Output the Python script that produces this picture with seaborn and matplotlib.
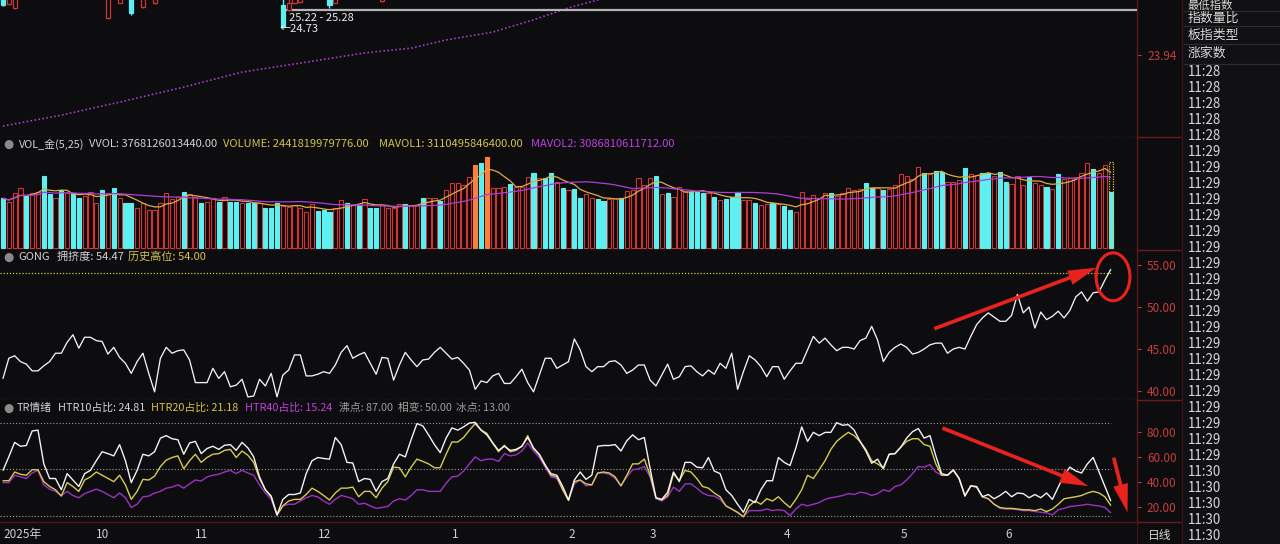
import numpy as np
import pandas as pd
import matplotlib
matplotlib.use("Agg")
import matplotlib.pyplot as plt
import seaborn as sns
from matplotlib.patches import Ellipse, FancyArrowPatch
from matplotlib.lines import Line2D

# ---------------------------------------------------------------- data
# GONG 拥挤度 (one value per trading day)
gong = [
    41.5, 43.9, 44.2, 43.5, 43.2, 42.4, 42.4, 43.0, 43.5, 44.5,
    44.5, 45.8, 46.7, 45.1, 46.4, 46.4, 46.0, 45.9, 44.4, 45.2,
    44.0, 43.3, 42.1, 43.5, 44.5, 42.1, 39.9, 43.9, 45.2, 44.5,
    44.8, 44.9, 43.7, 41.0, 41.0, 41.0, 42.7, 41.5, 42.3, 40.5,
    40.7, 41.4, 39.3, 39.4, 41.4, 40.6, 42.1, 39.3, 41.9, 42.5,
    44.3, 44.3, 41.8, 41.8, 42.0, 42.3, 42.1, 43.1, 44.6, 45.4,
    43.9, 44.3, 44.6, 43.3, 42.0, 44.0, 43.9, 41.3, 43.1, 44.6,
    43.7, 42.9, 43.7, 43.8, 44.6, 45.2, 44.5, 43.8, 44.0, 43.3,
    42.5, 40.2, 41.2, 41.0, 41.8, 42.1, 40.9, 40.9, 41.7, 42.6,
    41.0, 39.9, 41.9, 43.9, 43.9,
    42.7, 43.1, 43.5, 46.2, 44.9, 42.9, 42.3, 42.9, 42.9, 43.5,
    43.6, 43.1, 42.1, 42.5, 43.1, 43.1, 41.3, 40.6, 41.9, 43.2,
    41.4, 41.7, 42.9, 43.0, 42.3, 41.8, 42.5, 42.0, 43.3, 42.7,
    44.5, 40.2, 42.3, 44.2, 43.7, 42.9, 41.7, 42.9, 42.9, 41.4,
    42.4, 43.3, 43.3, 44.9, 46.5, 45.7, 46.3, 45.5, 44.8, 45.2,
    45.2, 45.0, 46.0, 46.3, 47.7, 46.1, 43.5, 44.6, 45.2, 45.6,
    45.2, 44.4, 44.6, 45.0, 45.5, 45.7, 45.7, 44.5, 45.0, 45.2,
    45.0, 46.5, 47.9, 48.7, 49.3, 48.8, 48.3, 48.3, 49.0, 51.5,
    49.3, 50.0, 47.5, 49.4, 48.5, 48.9, 49.5, 48.7, 49.6, 51.2,
    51.8, 50.7, 51.7, 51.8, 53.2, 54.47,
]
gong_high = 54.00

# TR情绪
htr10 = [
    49.1, 60.0, 71.5, 68.4, 69.0, 80.6, 81.3, 54.3, 42.6, 42.6,
    33.6, 46.5, 41.4, 36.2, 46.5, 49.1, 56.8, 64.0, 62.5, 60.7,
    69.7, 56.8, 39.3, 49.1, 62.0, 60.7, 64.0, 74.9, 76.9, 74.4,
    73.6, 62.0, 71.0, 72.3, 62.5, 66.6, 68.4, 65.9, 69.2, 69.7,
    65.1, 71.5, 67.1, 59.9, 43.9, 33.6, 28.5, 13.5, 25.9, 29.8,
    29.8, 31.0, 46.5, 56.8, 59.4, 58.6, 58.1, 75.4, 69.7, 55.5,
    55.0, 40.1, 42.6, 41.9,
    32.3, 40.1, 42.6, 54.3, 62.0, 59.9, 73.6, 86.5, 84.7, 77.5,
    69.7, 63.3, 74.9, 83.1, 81.3, 83.9, 87.0, 87.5, 81.3, 77.5,
    71.0, 65.1, 68.4, 65.1, 65.9, 68.4, 75.4, 67.1, 61.5, 53.0,
    46.5, 45.2, 36.2, 25.4, 41.4, 47.8, 41.9, 45.2, 68.4, 69.0,
    69.0, 69.7, 64.6, 72.8, 77.5, 73.6, 75.4, 50.4, 27.2, 25.9,
    31.6, 47.8, 40.1, 55.5, 55.5, 51.7, 51.2, 59.4, 48.6, 46.5,
    33.6, 29.0, 22.0, 15.6,
    25.9, 23.3, 33.6, 40.8, 40.8, 59.4, 55.5, 53.0, 67.1, 83.9,
    72.3, 79.5, 76.9, 79.5, 79.5, 87.3, 85.2, 85.7, 81.3, 72.3,
    64.6, 54.8, 58.1, 50.4, 62.0, 62.5, 67.7, 74.9, 80.0, 82.6,
    74.9, 76.9, 60.7, 46.5, 45.2, 49.6, 42.6, 28.5, 36.7, 36.2,
    28.0, 29.8, 26.4, 29.0, 32.3, 28.0, 31.0, 30.5, 27.2, 29.8,
    27.2, 31.0, 25.9, 35.7, 45.2, 51.7, 48.6, 47.0, 54.3, 59.4,
    47.8, 36.2, 24.81,
]
htr20 = [
    40.8, 40.8, 47.8, 46.0, 45.2, 49.6, 49.6, 40.1, 36.2, 33.6,
    28.5, 39.3, 36.2, 32.3, 41.4, 43.9, 47.8, 45.2, 42.6, 40.1,
    45.2, 37.5, 25.9, 32.3, 41.9, 41.4, 44.5, 52.2, 57.3, 59.4,
    60.7, 50.4, 56.8, 62.0, 55.5, 59.4, 62.0, 62.5, 65.1, 65.9,
    59.4, 64.6, 61.2, 55.5, 42.6, 33.6, 28.0, 13.5, 20.7, 24.6,
    25.9, 25.9, 29.8, 34.9, 32.3, 29.0, 25.4, 31.0, 34.9, 34.9,
    35.7, 28.0, 32.3, 32.3,
    27.2, 34.9, 40.1, 51.7, 51.2, 43.9, 51.7, 58.1, 56.3, 54.3,
    51.2, 51.2, 62.0, 71.8, 71.8, 75.4, 81.3, 86.5, 81.3, 78.7,
    71.0, 64.0, 69.2, 64.0, 65.1, 68.4, 76.9, 66.6, 62.0, 53.7,
    45.2, 43.9, 33.6, 25.0, 40.1, 41.4, 38.3, 37.5, 47.0, 47.8,
    47.0, 43.9, 36.7, 45.2, 54.3, 54.3, 58.1, 45.2, 27.2, 25.4,
    29.0, 46.5, 40.8, 49.1, 47.8, 42.6, 36.2, 34.9, 31.0, 28.0,
    20.7, 18.2, 15.6, 12.0,
    20.7, 24.6, 22.0, 26.4, 24.6, 28.0, 23.3, 19.4, 25.9, 33.6,
    45.2, 42.6, 49.6, 56.8, 65.9, 72.3, 76.2, 79.5, 76.9, 72.3,
    65.9, 56.8, 54.3, 51.2, 62.0, 62.5, 67.7, 72.3, 74.4, 74.4,
    69.7, 68.4, 54.3, 45.2, 45.2, 49.1, 42.6, 29.0, 36.7, 35.7,
    28.0, 26.4, 22.0, 19.4, 18.7, 18.7, 18.2, 17.6, 17.6, 16.9,
    18.2, 16.1, 18.2, 22.0, 26.4, 27.2, 28.0, 29.0, 31.0, 32.3,
    31.0, 28.0, 21.18,
]
htr40 = [
    39.3, 39.3, 45.2, 43.9, 42.6, 47.0, 49.1, 37.5, 34.1, 32.3,
    29.0, 32.3, 29.0, 27.2, 30.5, 32.3, 34.1, 32.3, 29.8, 27.2,
    31.0, 27.2, 19.4, 22.0, 27.9, 28.5, 31.0, 32.3, 34.9, 35.7,
    37.5, 34.9, 38.3, 41.4, 40.6, 43.9, 45.2, 46.0, 47.8, 49.1,
    46.5, 49.1, 47.0, 45.2, 37.5, 31.0, 25.9, 13.0, 20.7, 22.0,
    22.0, 24.6, 27.2, 29.0, 27.9, 24.6, 22.0, 25.9, 29.0, 27.9,
    26.4, 22.0, 22.8, 20.7,
    18.7, 19.4, 20.2, 24.6, 26.4, 25.4, 29.0, 33.6, 33.6, 32.3,
    32.3, 32.3, 38.8, 43.9, 44.5, 48.6, 54.3, 59.9, 56.8, 58.1,
    58.1, 56.3, 62.5, 60.7, 61.5, 64.6, 71.0, 64.6, 59.4, 51.7,
    43.9, 42.6, 33.6, 25.4, 38.3, 41.4, 36.7, 37.5, 47.0, 47.0,
    46.0, 42.6, 36.7, 43.9, 49.6, 50.4, 52.2, 43.9, 26.4, 24.6,
    27.9, 35.7, 32.3, 38.3, 38.3, 34.9, 31.0, 29.0, 28.5, 25.9,
    20.7, 18.2, 15.1, 12.0,
    16.9, 16.9, 16.9, 18.2, 16.9, 17.6, 16.9, 13.0, 18.2, 22.0,
    20.7, 22.0, 23.3, 25.9, 27.2, 27.9, 29.0, 30.5, 29.8, 31.6,
    31.0, 29.0, 30.5, 33.6, 32.3, 36.2, 37.5, 41.4, 46.5, 52.2,
    51.7, 53.7, 47.8, 45.2, 45.2, 49.1, 42.6, 29.0, 36.7, 35.7,
    28.0, 26.4, 22.0, 18.7, 18.2, 18.2, 17.6, 16.9, 16.9, 16.1,
    15.6, 15.1, 13.5, 17.6, 18.7, 20.2, 20.7, 21.2, 22.0, 21.2,
    20.7, 19.4, 15.24,
]
tr_levels = [87.0, 50.0, 13.0]   # 沸点 / 相变 / 冰点

# Volume, in units of VOL_UNIT
VOL_UNIT = 4.36e10
volume = [
    49.7, 46.3, 54.7, 59.7, 52.3, 54.7, 55.7, 72.3, 53.7, 49.7,
    58.0, 54.7, 54.7, 49.7, 52.3, 55.7, 44.7, 58.0, 53.7, 59.7,
    49.7, 44.7, 44.7, 40.3, 44.7, 38.0, 38.0, 44.7, 54.7, 49.0,
    51.3, 55.7, 53.7, 51.3, 44.7, 46.3, 49.7, 46.3, 51.3, 46.3,
    45.7, 44.7, 44.7, 44.7, 44.7, 40.3, 40.3, 44.7, 42.3, 41.3,
    43.0, 40.3, 36.3, 43.7, 37.0, 38.0, 36.3, 40.3, 48.0, 44.7,
    43.0, 43.0, 49.0, 40.3, 40.3, 43.0, 39.7, 40.3, 43.7, 43.7,
    43.0, 43.0, 49.7, 49.7, 49.7, 47.0, 58.0, 64.7, 64.7, 63.0,
    71.3, 83.0, 84.7, 91.3, 59.7, 59.7, 61.3, 63.7, 61.3, 61.3,
    71.3, 74.7, 69.7, 69.7, 74.7, 66.3, 59.7, 58.0, 59.0, 50.3,
    53.7, 50.3, 49.0, 47.0, 49.0, 49.7, 50.3, 57.0, 58.0, 69.7,
    63.0,
    69.7, 72.0, 54.0, 55.3, 50.7, 61.3, 57.3, 56.3, 56.3, 55.3,
    55.3, 50.7, 48.0, 48.7, 51.3, 55.3, 48.0, 48.0, 45.3, 43.0,
    44.0, 45.3, 44.0, 42.0, 38.0, 36.3, 56.3, 48.7, 53.0, 49.7,
    55.3, 55.3, 52.0, 54.7, 59.7, 58.0, 58.7, 64.7, 59.7, 59.7,
    58.0, 58.7, 63.0, 74.0, 72.0, 68.7, 81.3, 74.7, 74.0, 77.3,
    76.3, 66.3, 66.3, 68.0, 79.7, 74.0, 73.0, 74.7, 74.7, 72.0,
    76.3, 65.7, 64.0, 72.0, 63.0, 71.3, 64.7, 63.0, 60.7, 58.7,
    74.0, 68.7, 69.7, 70.7, 75.3, 85.3, 78.7, 75.3, 83.0, 56.3,
]
# bar kind: R = up (hollow red), C = down (cyan), O = highlighted (orange)
bar_kind = list(
    "CRRRCRRCCR" "CRCCRRRCRC" "RCCRRRRRRR" "RCRRCRRCRC" "CRCCRCCCRR"
    "RRRRCCCRRC" "RCRCCRRRRC" "RRCRRCRRRR" "ROCORRRCRR" "RCRCCRCRCC"
    "RRCCRRCRRR" "R"
    "RCRCRRRCCC" "RCRCCCRRCR" "RCRCCRRRRR" "RCRRRRRCCR" "CRRRRRRCRC"
    "CRRRCRRCCR" "CCRRRCRRCR" "CRRRRRCRRC"
)
vvol_last = 3768126013440.0 / VOL_UNIT

# Price panel (only the bottoms of a few candles are visible)
candle_idx = [0, 1, 2, 18, 20, 22, 24, 26, 48, 49, 50, 51, 56, 57, 65]
candle_open = [25.80, 25.44, 25.33, 25.02, 25.47, 25.90, 25.35, 25.46, 25.40, 25.26, 25.45, 25.50, 25.80, 25.47, 25.52]
candle_high = [25.90, 25.80, 25.80, 25.90, 25.90, 26.00, 25.90, 25.90, 25.70, 25.70, 25.80, 25.80, 25.90, 25.80, 25.80]
candle_low = [25.36, 25.40, 25.30, 25.00, 25.46, 25.10, 25.31, 25.42, 24.73, 25.24, 25.43, 25.47, 25.33, 25.45, 25.49]
candle_close = [25.40, 25.70, 25.70, 25.70, 25.70, 25.17, 25.80, 25.80, 24.76, 25.46, 25.70, 25.70, 25.40, 25.70, 25.70]
price_ma_idx = [0, 10, 20, 31, 41, 52, 62, 70, 76, 84, 91, 97, 102, 110]
price_ma_val = [21.86, 22.18, 22.56, 23.00, 23.44, 23.73, 24.00, 24.14, 24.38, 24.61, 24.97, 25.32, 25.55, 25.90]
price_line_level = 25.26
price_tick = [23.94]

month_pos = [0, 16, 33, 54, 77, 97, 111, 134, 154, 172]
month_labels = ["2025年", "10", "11", "12", "1", "2", "3", "4", "5", "6"]

gong_ticks = [40, 45, 50, 55]
tr_ticks = [20, 40, 60, 80]

side_items = ["最低指数", "指数量比", "板指类型", "涨家数"]
side_times = ["11:28"] * 5 + ["11:29"] * 20 + ["11:30"] * 5

N = len(gong)
assert len(htr10) == N and len(htr20) == N and len(htr40) == N
assert len(volume) == N and len(bar_kind) == N
idx = np.arange(N)

# ---------------------------------------------------------------- style
BG = "#0d0d10"
SIDE_BG = "#111114"
SEP = "#4e1616"
AXRED = "#c83c3c"
GRAY_TXT = "#d2d2d2"
YEL = "#d4c24c"
MAG = "#c040e0"
CYAN = "#5ef0f0"
RED = "#cc3636"
ORANGE = "#ff7f3a"
ARROW = "#e8231e"

sns.set_theme(style="dark")
plt.rcParams["font.family"] = ["Noto Sans CJK SC", "DejaVu Sans"]
plt.rcParams["axes.unicode_minus"] = False

W, H = 1280, 544
fig = plt.figure(figsize=(W / 100, H / 100), dpi=100, facecolor=BG)


def rect(x0, y0, x1, y1):
    return [x0 / W, 1 - y1 / H, (x1 - x0) / W, (y1 - y0) / H]


CH_R = 1137
XL = ((0 - 3) / 5.83, (CH_R - 3) / 5.83)

ax_p = fig.add_axes(rect(0, 0, CH_R, 137))
ax_v = fig.add_axes(rect(0, 137, CH_R, 250))
ax_g = fig.add_axes(rect(0, 250, CH_R, 400))
ax_t = fig.add_axes(rect(0, 400, CH_R, 522))
panels = [ax_p, ax_v, ax_g, ax_t]

for ax in panels:
    ax.set_facecolor(BG)
    ax.grid(False)
    ax.set_xlim(*XL)
    for s in ["left", "top"]:
        ax.spines[s].set_visible(False)
    ax.spines["right"].set_visible(True)
    ax.spines["right"].set_color("#5a1a1a")
    ax.spines["right"].set_linewidth(1.0)
    ax.spines["bottom"].set_visible(True)
    ax.spines["bottom"].set_color(SEP)
    ax.spines["bottom"].set_linewidth(1.0)
    ax.spines["bottom"].set_linestyle((0, (2, 2)))
    ax.set_xlabel("")
    ax.set_ylabel("")
    ax.tick_params(axis="x", bottom=False, labelbottom=False)
ax_t.spines["bottom"].set_linestyle("-")


def right_ticks(ax, ticks, fmt="{:.2f}"):
    ax.yaxis.tick_right()
    ax.set_yticks(ticks, [fmt.format(t) for t in ticks])
    ax.tick_params(axis="y", right=True, left=False, labelright=True, labelleft=False,
                   colors=AXRED, labelcolor=AXRED, labelsize=8.5, length=3, width=0.8,
                   pad=25.5)
    for lab in ax.get_yticklabels():
        lab.set_horizontalalignment("right")


# ---------------------------------------------------------------- price panel
ax_p.set_ylim(21.54, 25.55)
for i, o, h, l, c in zip(candle_idx, candle_open, candle_high, candle_low, candle_close):
    up = c >= o
    col = RED if up else CYAN
    ax_p.vlines(i, l, h, color=col, lw=1.0, zorder=3)
    ax_p.bar(i, abs(c - o), bottom=min(o, c), width=0.7,
             facecolor=BG if up else CYAN, edgecolor=col, lw=0.9, zorder=4)
sns.lineplot(x=price_ma_idx, y=price_ma_val, ax=ax_p, color="#a83cc4", lw=1.2,
             linestyle=(0, (1, 1.4)), zorder=2)
ax_p.hlines(price_line_level, 48.4, XL[1], color="#b4b4b4", lw=1.6, zorder=3)
ax_p.text(49.0, 25.03, "25.22 - 25.28", color="#ececec", fontsize=8.0, va="center", zorder=5)
ax_p.text(47.5, 24.70, "←24.73", color="#ececec", fontsize=8.0, va="center", zorder=5)
right_ticks(ax_p, price_tick)
ax_p.set_xlim(*XL)

# ---------------------------------------------------------------- volume panel
ax_v.set_ylim(-2, 111)
kind_arr = np.array(bar_kind)
vol_arr = np.array(volume)
for k, fc, ec in [("R", "#120a0a", RED), ("C", CYAN, CYAN), ("O", ORANGE, ORANGE)]:
    m = kind_arr == k
    ax_v.bar(idx[m], vol_arr[m], width=0.72, facecolor=fc, edgecolor=ec, lw=0.8, zorder=3)
ax_v.bar(idx[-1], vvol_last, width=0.72, facecolor="none", edgecolor="#d8c040",
         lw=0.9, linestyle=(0, (1, 1)), zorder=4)
vs = pd.Series(vol_arr)
sns.lineplot(x=idx, y=vs.rolling(5, min_periods=1).mean().values, ax=ax_v,
             color="#e0ac40", lw=0.9, zorder=5)
sns.lineplot(x=idx, y=vs.rolling(25, min_periods=1).mean().values, ax=ax_v,
             color="#b03cd8", lw=0.9, zorder=5)
ax_v.set_yticks([])
ax_v.set_xlim(*XL)

# ---------------------------------------------------------------- GONG panel
ax_g.set_ylim(38.93, 56.79)
ax_g.hlines(gong_high, -0.5, N - 1, color="#d8c848", lw=0.9, linestyle=(0, (1, 1.5)), zorder=2)
sns.lineplot(x=idx, y=gong, ax=ax_g, color="#f2f2f2", lw=0.95, zorder=3)
right_ticks(ax_g, gong_ticks)
ax_g.set_xlim(*XL)
ax_g.add_patch(Ellipse((190.4, 53.6), 5.8, 5.7, fill=False, edgecolor=ARROW, lw=2.2, zorder=6))
ax_g.add_patch(FancyArrowPatch((159.3, 47.3), (188.0, 54.8),
                               arrowstyle="simple,head_length=1.7,head_width=0.9,tail_width=0.22",
                               mutation_scale=12, color=ARROW, lw=0, zorder=6))

# ---------------------------------------------------------------- TR panel
ax_t.set_ylim(7.8, 105.4)
ax_t.hlines(tr_levels, -0.5, N - 1, color="#a0a0a0", lw=0.8, linestyle=(0, (1, 1.8)), zorder=2)
sns.lineplot(x=idx, y=htr40, ax=ax_t, color="#9c32c2", lw=1.0, zorder=3)
sns.lineplot(x=idx, y=htr20, ax=ax_t, color="#d6ca52", lw=1.0, zorder=4)
sns.lineplot(x=idx, y=htr10, ax=ax_t, color="#f2f2f2", lw=1.0, zorder=5)
right_ticks(ax_t, tr_ticks)
ax_t.set_xlim(*XL)
for (x0, y0), (x1, y1) in [((160.7, 83.8), (186.6, 35.6)), ((190.4, 61.4), (193.0, 13.4))]:
    ax_t.add_patch(FancyArrowPatch((x0, y0), (x1, y1),
                                   arrowstyle="simple,head_length=1.7,head_width=0.9,tail_width=0.22",
                                   mutation_scale=12, color=ARROW, lw=0, zorder=6))
ax_t.set_xticks(month_pos, month_labels)
ax_t.tick_params(axis="x", bottom=True, labelbottom=True, length=0, pad=4,
                 labelsize=8.5, labelcolor="#cfcfcf")
for lab in ax_t.get_xticklabels():
    lab.set_horizontalalignment("left")


# ---------------------------------------------------------------- header texts
def ftext(x, y, s, color, fs=8.0, **kw):
    return fig.text(x / W, 1 - y / H, s, color=color, fontsize=fs, va="center", ha="left", **kw)


def icon(y):
    fig.text(8 / W, 1 - y / H, "●", color="#8a8a8a", fontsize=8.5, va="center",
             ha="center", family="DejaVu Sans")


icon(144)
ftext(19, 144, "VOL_金(5,25)", GRAY_TXT, fs=7.8)
ftext(89, 144, "VVOL: 3768126013440.00", GRAY_TXT)
ftext(223, 144, "VOLUME: 2441819979776.00", YEL)
ftext(379, 144, "MAVOL1: 3110495846400.00", YEL)
ftext(531, 144, "MAVOL2: 3086810611712.00", MAG)

icon(257)
ftext(18, 257, "GONG", GRAY_TXT)
ftext(57, 257, "拥挤度: 54.47", GRAY_TXT)
ftext(128, 257, "历史高位: 54.00", YEL)

icon(408)
TRF = 7.8
ftext(17, 408, "TR情绪", GRAY_TXT, fs=TRF)
ftext(58, 408, "HTR10占比: 24.81", GRAY_TXT, fs=TRF)
ftext(151, 408, "HTR20占比: 21.18", YEL, fs=TRF)
ftext(245, 408, "HTR40占比: 15.24", MAG, fs=TRF)
ftext(339, 408, "沸点: 87.00", "#9c9c9c", fs=TRF)
ftext(398, 408, "相变: 50.00", "#9c9c9c", fs=TRF)
ftext(456, 408, "冰点: 13.00", "#9c9c9c", fs=TRF)

ftext(1148, 535, "日线", "#d8d8d8", fs=8.5)

# ---------------------------------------------------------------- axis column frame
AX_R = 1182
for yy in [137, 250, 400, 522]:
    fig.add_artist(Line2D([CH_R / W, AX_R / W], [1 - yy / H, 1 - yy / H],
                          color="#6a1c1c", lw=1.0))
fig.add_artist(Line2D([AX_R / W, AX_R / W], [0, 1], color="#3a1414", lw=1.0))
fig.add_artist(Line2D([CH_R / W, CH_R / W], [1 - 544 / H, 1 - 522 / H], color="#3a1414", lw=1.0))

# ---------------------------------------------------------------- sidebar
ax_s = fig.add_axes(rect(AX_R + 1, 0, 1280, 544))
ax_s.set_facecolor(SIDE_BG)
ax_s.set_xlim(AX_R + 1, 1280)
ax_s.set_ylim(544, 0)
ax_s.set_xticks([])
ax_s.set_yticks([])
ax_s.grid(False)
for s in ax_s.spines.values():
    s.set_visible(False)
item_y = [5, 18.5, 35, 53]
item_fs = [8.2, 9.3, 9.3, 9.3]
for s, y, f in zip(side_items, item_y, item_fs):
    ax_s.text(1188, y, s, color="#d8d8d8", fontsize=f, va="center", ha="left")
for y in [11, 26, 44, 64]:
    ax_s.hlines(y, AX_R + 1, 1280, color="#2c2c2c", lw=0.9)
for k, s in enumerate(side_times):
    ax_s.text(1188, 72 + 16.0 * k, s, color="#d8d8d8", fontsize=9.6, va="center", ha="left")

fig.savefig("out.png", dpi=100, facecolor=BG)
